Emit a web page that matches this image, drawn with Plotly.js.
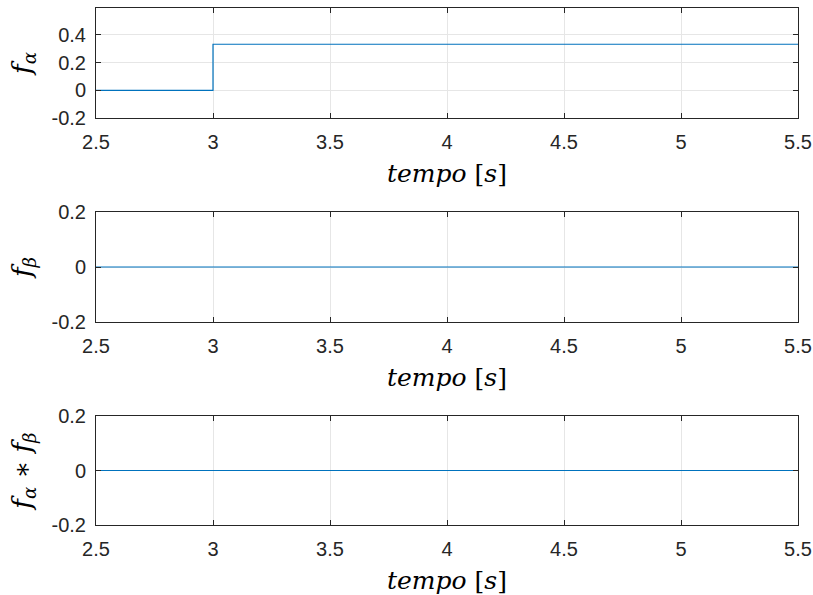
<!DOCTYPE html>
<html><head><meta charset="utf-8">
<script src="https://cdn.plot.ly/plotly-3.0.1.min.js"></script>
<style>html,body{margin:0;padding:0;background:#fff}</style>
</head><body>
<div id="plot" style="width:813px;height:595px"></div>
<script>
// time samples (s)
var tempo = [2.5, 3.0, 4.0, 5.5];
// f_alpha
var fAlpha = [0, 0.333, 0.333, 0.333];
// f_beta
var fBeta = [0, 0, 0, 0];
// f_alpha * f_beta
var fAlphaBeta = [0, 0, 0, 0];
var xTicks = [2.5, 3, 3.5, 4, 4.5, 5, 5.5];
var yTicksTop = [-0.2, 0, 0.2, 0.4];
var yTicks = [-0.2, 0, 0.2];

var blue = '#0072BD';
var ink = '#262626';
var traces = [
  {x: tempo, y: fAlpha, xaxis: 'x', yaxis: 'y', mode: 'lines', line: {color: blue, width: 1.2, shape: 'hv'}},
  {x: tempo, y: fBeta, xaxis: 'x2', yaxis: 'y2', mode: 'lines', line: {color: blue, width: 1.2, shape: 'hv'}},
  {x: tempo, y: fAlphaBeta, xaxis: 'x3', yaxis: 'y3', mode: 'lines', line: {color: blue, width: 1.2, shape: 'hv'}}
];

function xax(anchor) {
  return {
    anchor: anchor, domain: [0, 1], range: [2.5, 5.5],
    tickvals: xTicks, ticktext: xTicks.map(String),
    showgrid: true, gridcolor: '#e6e6e6', gridwidth: 1,
    zeroline: false, showline: true, linecolor: ink, linewidth: 1, mirror: 'ticks',
    ticks: 'inside', ticklen: 5, tickcolor: ink, ticklabelstandoff: 6,
    tickfont: {family: 'Liberation Sans, Arial, sans-serif', size: 20, color: ink},
    title: {text: '<i>tempo</i> [<i>s</i>]', font: {family: 'DejaVu Serif, serif', size: 25, color: '#000'}, standoff: 12}
  };
}
function yax(anchor, domain, range, ticks, label) {
  return {
    anchor: anchor, domain: domain, range: range,
    tickvals: ticks, ticktext: ticks.map(String),
    showgrid: true, gridcolor: '#e6e6e6', gridwidth: 1,
    zeroline: false, showline: true, linecolor: ink, linewidth: 1, mirror: 'ticks',
    ticks: 'inside', ticklen: 5, tickcolor: ink, ticklabelstandoff: 5,
    tickfont: {family: 'Liberation Sans, Arial, sans-serif', size: 20, color: ink},
    title: {text: label, font: {family: 'DejaVu Serif, serif', size: 26, color: '#000'}, standoff: 12}
  };
}

var layout = {
  width: 813, height: 595,
  margin: {l: 96, r: 15, t: 8, b: 70},
  paper_bgcolor: '#fff', plot_bgcolor: '#fff',
  showlegend: false,
  xaxis: xax('y'),
  yaxis: yax('x', [0.7872, 1], [-0.2, 0.595], yTicksTop, '<i>f</i><sub><i>α</i></sub>'),
  xaxis2: xax('y2'),
  yaxis2: yax('x2', [0.3926, 0.6054], [-0.2, 0.2], yTicks, '<i>f</i><sub><i>β</i></sub>'),
  xaxis3: xax('y3'),
  yaxis3: yax('x3', [0, 0.2108], [-0.2, 0.2], yTicks, '<i>f</i><sub><i>α</i></sub> ∗ <i>f</i><sub><i>β</i></sub>')
};
Plotly.newPlot('plot', traces, layout, {staticPlot: true, displayModeBar: false});
</script>
</body></html>
